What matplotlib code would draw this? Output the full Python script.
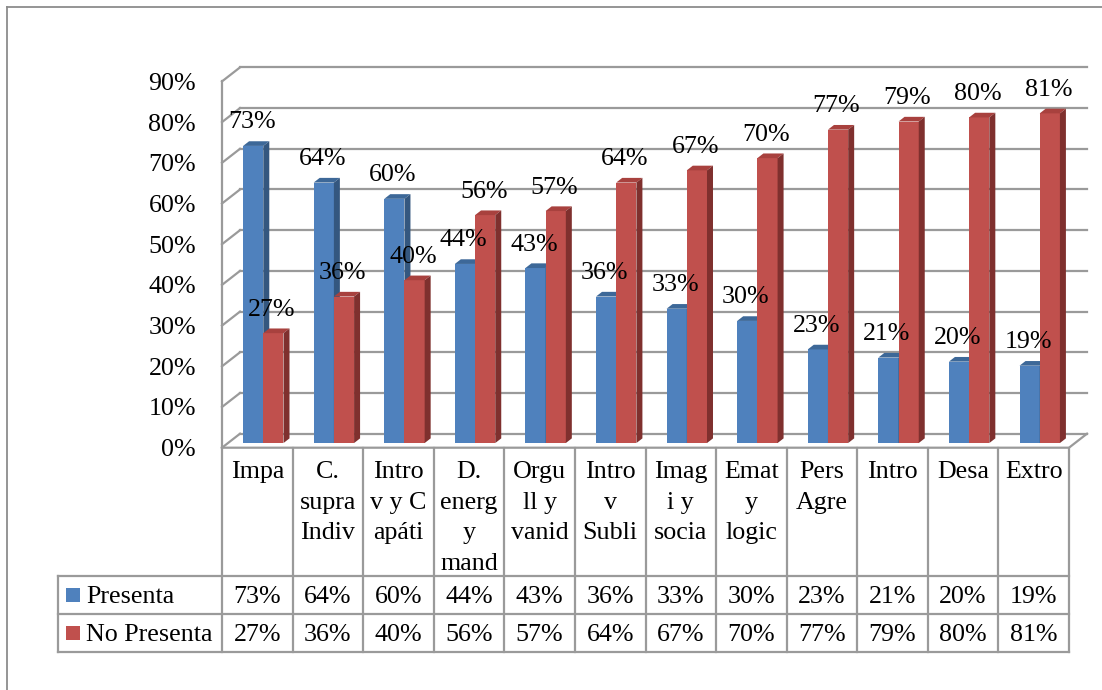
import matplotlib.pyplot as plt
from matplotlib.lines import Line2D
from matplotlib.patches import Polygon, Rectangle
import matplotlib.transforms as mtransforms

categories = ["Impa", "C.\nsupra\nIndiv", "Intro\nv y C\napáti", "D.\nenerg\ny\nmand",
              "Orgu\nll y\nvanid", "Intro\nv\nSubli", "Imag\ni y\nsocia", "Emat\ny\nlogic",
              "Pers\nAgre", "Intro", "Desa", "Extro"]
presenta = [73, 64, 60, 44, 43, 36, 33, 30, 23, 21, 20, 19]
no_presenta = [27, 36, 40, 56, 57, 64, 67, 70, 77, 79, 80, 81]
series_names = ["Presenta", "No Presenta"]
y_ticks = [0, 10, 20, 30, 40, 50, 60, 70, 80, 90]

plt.rcParams['font.family'] = ['Liberation Serif', 'DejaVu Serif']
FS = 18.7
GRID = '#9a9a9a'
BORDER = '#8c8c8c'

W, H = 1102, 690
fig = plt.figure(figsize=(W / 100, H / 100), dpi=100)


def fx(px):
    return px / W


def fy(py):
    # py measured from the top of the picture
    return 1 - py / H


# front plane of the 3d box
L, R = 222, 1069
Y0, YTOP = 447.7, 81.4
n = len(categories)
ax = fig.add_axes([fx(L), fy(Y0), (R - L) / W, (Y0 - YTOP) / H])
ax.set_xlim(-0.5, n - 0.5)
ax.set_ylim(0, 90)
ax.patch.set_visible(False)
for s in ax.spines.values():
    s.set_visible(False)
ax.set_xticks([])
ax.set_yticks(y_ticks, [f"{v}%" for v in y_ticks])
ax.tick_params(axis='y', length=0, pad=18.7, labelsize=FS)

colw = (R - L) / n
dxu = 18 / colw                      # depth in x, data units
dyu = 14 / ((Y0 - YTOP) / 90)        # depth in y, data units


def P(x, y, t):
    return (x + t * dxu, y + t * dyu)


# back wall gridlines + left wall
for v in y_ticks:
    a, b = P(-0.5, v, 1), P(n - 0.5, v, 1)
    ax.plot([a[0], b[0]], [a[1], b[1]], color=GRID, lw=1.6, clip_on=False, zorder=1)
    c = P(-0.5, v, 0)
    ax.plot([c[0], a[0]], [c[1], a[1]], color=GRID, lw=1.6, clip_on=False, zorder=1)
ax.plot([-0.5, -0.5], [0, 90], color=GRID, lw=1.6, clip_on=False, zorder=1)
# floor
fl = [P(-0.5, 0, 0), P(n - 0.5, 0, 0), P(n - 0.5, 0, 1)]
ax.plot([p[0] for p in fl], [p[1] for p in fl], color=GRID, lw=1.6, clip_on=False, zorder=1)

bw = 20.2 / colw
styles = [
    (presenta, -bw, '#4f81bd', '#3d6898', '#34577f', 3),
    (no_presenta, 0.0, '#c0504d', '#a8413e', '#7f302e', 4),
]
for vals, off, c_front, c_top, c_side, z in styles:
    for i, v in enumerate(vals):
        xl, xr = i + off, i + off + bw
        ax.bar(xl + dxu / 3, v, width=bw, bottom=dyu / 3, align='edge',
               color=c_front, zorder=z, clip_on=False)
        top = [P(xl, v, 1 / 3), P(xr, v, 1 / 3), P(xr, v, 2 / 3), P(xl, v, 2 / 3)]
        side = [P(xr, 0, 1 / 3), P(xr, v, 1 / 3), P(xr, v, 2 / 3), P(xr, 0, 2 / 3)]
        ax.add_patch(Polygon(top, closed=True, fc=c_top, ec='none', zorder=z, clip_on=False))
        ax.add_patch(Polygon(side, closed=True, fc=c_side, ec='none', zorder=z, clip_on=False))
        ax.annotate(f"{v}%", xy=P((xl + xr) / 2, v, 1 / 3), xytext=(-1.5, 17.5),
                    textcoords='offset pixels', ha='center', va='baseline',
                    fontsize=FS, zorder=6, annotation_clip=False)

# data table under the chart
tr = mtransforms.blended_transform_factory(ax.transData, fig.transFigure)
x_leg = -0.5 - (L - 58) / colw
rows_y = [Y0, 576, 614, 652]
for k in range(n + 1):
    fig.add_artist(Line2D([k - 0.5, k - 0.5], [fy(Y0), fy(652)], transform=tr,
                          color=GRID, lw=1.6))
for yy in rows_y[1:]:
    fig.add_artist(Line2D([x_leg, n - 0.5], [fy(yy), fy(yy)], transform=tr,
                          color=GRID, lw=1.6))
fig.add_artist(Line2D([x_leg, x_leg], [fy(576), fy(652)], transform=tr, color=GRID, lw=1.6))

for i, lab in enumerate(categories):
    for j, line in enumerate(lab.split("\n")):
        fig.text(i, fy(Y0 + 30.3 + j * 30.6), line, transform=tr, ha='center',
                 va='baseline', fontsize=FS)

row_vals = [presenta, no_presenta]
row_cols = ['#4f81bd', '#c0504d']
for r, (name, vals, col) in enumerate(zip(series_names, row_vals, row_cols)):
    yc = 595 + r * 38
    fig.add_artist(Rectangle((fx(66), fy(yc + 7)), 14 / W, 14 / H, fc=col, ec='none',
                             transform=fig.transFigure))
    fig.text(fx(86), fy(yc + 8.3), name, ha='left', va='baseline', fontsize=FS)
    for i, v in enumerate(vals):
        fig.text(i, fy(yc + 8.3), f"{v}%", transform=tr, ha='center', va='baseline',
                 fontsize=FS)

# chart area border (runs off the right and bottom of the picture)
fig.add_artist(Line2D([fx(6.7), fx(6.7)], [fy(7.3), fy(H + 5)], color=BORDER, lw=1.3))
fig.add_artist(Line2D([fx(6.7), fx(W + 5)], [fy(7.3), fy(7.3)], color=BORDER, lw=1.3))

fig.savefig('out.png', dpi=100)
